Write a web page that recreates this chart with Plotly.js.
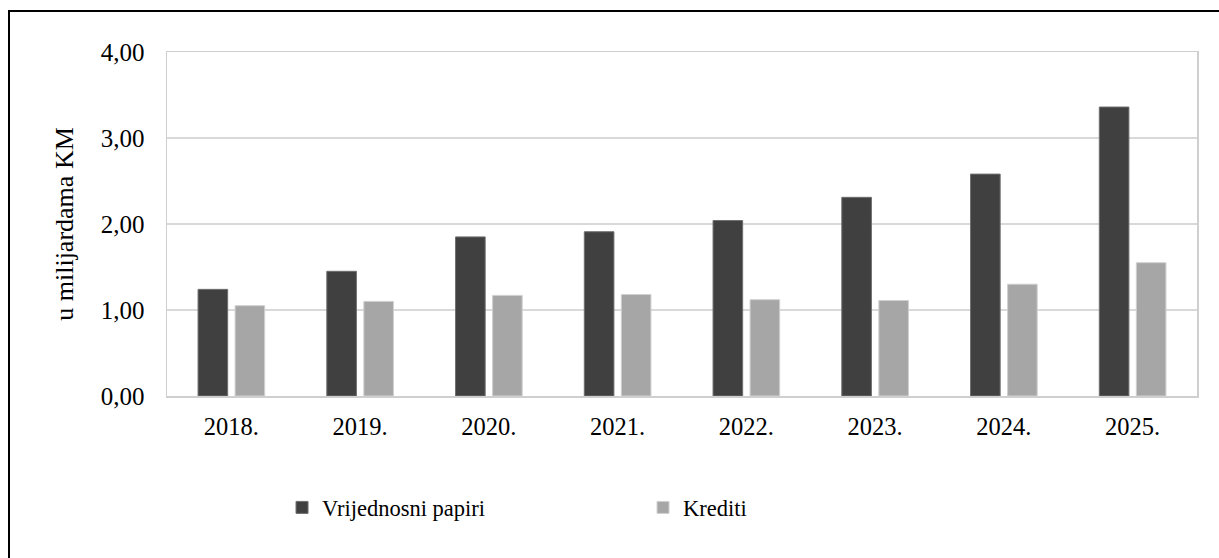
<!DOCTYPE html>
<html>
<head>
<meta charset="utf-8">
<script src="https://cdn.plot.ly/plotly-3.0.1.min.js"></script>
<style>
  html, body { margin: 0; padding: 0; background: #fff; width: 1219px; height: 558px; overflow: hidden; }
  #frame { position: absolute; left: 8px; top: 10px; border-left: 2px solid #000; border-top: 2px solid #000; }
  #chart { width: 1209px; height: 546px; }
  #chart .legendtext { font-family: "Liberation Serif", "Times New Roman", serif !important; }
</style>
</head>
<body>
<div id="frame"><div id="chart"></div></div>
<script>
const years = ['2018.', '2019.', '2020.', '2021.', '2022.', '2023.', '2024.', '2025.'];
const vrijednosniPapiri = [1.24, 1.45, 1.85, 1.91, 2.04, 2.31, 2.58, 3.36];
const krediti = [1.05, 1.10, 1.17, 1.18, 1.12, 1.11, 1.30, 1.55];
const seriesNames = ['Vrijednosni papiri', 'Krediti'];
const yTicks = [0, 1, 2, 3, 4];

function serif(size) {
  return { family: 'Liberation Serif, Times New Roman, serif', color: '#000', size: size };
}

const data = [
  { type: 'bar', name: seriesNames[0], x: years, y: vrijednosniPapiri,
    marker: { color: '#404040', line: { color: '#6e6e6e', width: 1 } } },
  { type: 'bar', name: seriesNames[1], x: years, y: krediti,
    marker: { color: '#a6a6a6', line: { color: '#d0d0d0', width: 1 } } }
];

const layout = {
  width: 1209, height: 546,
  margin: { l: 157, r: 22, t: 40, b: 162 },
  paper_bgcolor: '#fff', plot_bgcolor: '#fff',
  font: serif(24),
  barmode: 'group', bargap: 0.425, bargroupgap: 0.2,
  separators: ',.',
  showlegend: true,
  legend: {
    orientation: 'h', xref: 'container', yref: 'container',
    x: 0.225, xanchor: 'left', y: 0.092, yanchor: 'middle',
    entrywidth: 316, entrywidthmode: 'pixels',
    font: serif(22.5), bgcolor: 'rgba(0,0,0,0)'
  },
  xaxis: {
    type: 'category', tickfont: serif(24.5), showgrid: false,
    showline: true, linecolor: '#cfcfcf', linewidth: 1.5, mirror: true,
    ticks: '', ticklabelstandoff: 8, zeroline: false
  },
  yaxis: {
    range: [0, 4], tickvals: yTicks, tickformat: '.2f', tickfont: serif(25),
    showgrid: true, gridcolor: '#d9d9d9', gridwidth: 1.5,
    showline: true, linecolor: '#cfcfcf', linewidth: 1.5, mirror: true,
    zeroline: false, ticks: '', ticklabelstandoff: 16,
    title: { text: 'u milijardama KM', font: serif(26), standoff: 19 }
  }
};

Plotly.newPlot('chart', data, layout, { displayModeBar: false, staticPlot: true });
</script>
</body>
</html>
